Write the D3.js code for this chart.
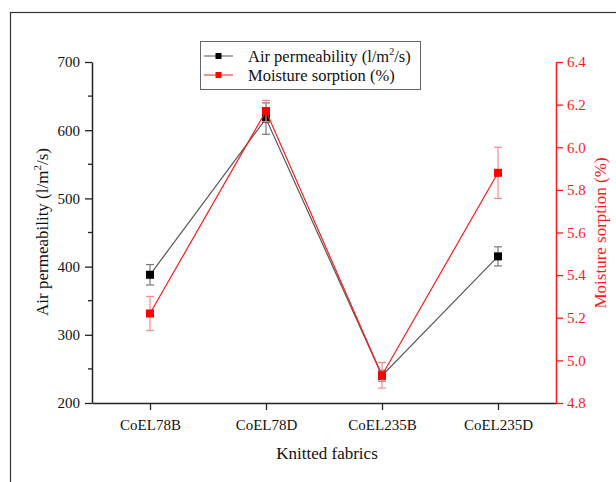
<!DOCTYPE html>
<html>
<head>
<meta charset="utf-8">
<script src="https://cdn.jsdelivr.net/npm/d3@7"></script>
<style>
  html, body { margin: 0; padding: 0; background: #fff; }
  svg text { font-family: "Times New Roman", "Liberation Serif", "DejaVu Serif", serif !important; }
</style>
</head>
<body>
<svg id="chart" width="616" height="482"></svg>
<script>
// Fabric samples on the x axis
const fabrics = ["CoEL78B", "CoEL78D", "CoEL235B", "CoEL235D"];
// Air permeability (l/m²/s) with standard deviation
const airPerm = [388, 617, 240, 415];
const airPermErr = [15, 23, 8, 14];
// Moisture sorption (%) with standard deviation
const moisture = [5.22, 6.17, 4.93, 5.88];
const moistureErr = [0.08, 0.05, 0.06, 0.12];
// Axis ticks
const leftTicks = [200, 300, 400, 500, 600, 700];
const leftMinor = [250, 350, 450, 550, 650];
const rightTicks = [4.8, 5.0, 5.2, 5.4, 5.6, 5.8, 6.0, 6.2, 6.4];

const RED = "#ff1a1a";
const svg = d3.select("#chart");

// outer frame
svg.append("rect").attr("x", 10.5).attr("y", 12.5).attr("width", 640).attr("height", 500)
  .attr("fill", "none").attr("stroke", "#333").attr("stroke-width", 1.2);

const L = 92, R = 556, T = 62, B = 403;
const x = d3.scaleLinear().domain([0.5, 4.5]).range([L, R]);
const yL = d3.scaleLinear().domain([200, 700]).range([B, T]);
const yR = d3.scaleLinear().domain([4.8, 6.4]).range([B, T]);

// bottom axis
const xAxis = svg.append("g").attr("transform", `translate(0,${B})`)
  .call(d3.axisBottom(x).tickValues([1, 2, 3, 4]).tickFormat(i => fabrics[i - 1])
    .tickSize(7).tickSizeOuter(0).tickPadding(9));
xAxis.select(".domain").attr("stroke", "#222").attr("stroke-width", 1.5);
xAxis.selectAll(".tick line").attr("stroke", "#222").attr("stroke-width", 1.3);
xAxis.selectAll("text").attr("font-size", 15).attr("fill", "#111");

// left axis
const lAxis = svg.append("g").attr("transform", `translate(${L},0)`)
  .call(d3.axisLeft(yL).tickValues(leftTicks).tickSize(7).tickSizeOuter(0).tickPadding(5));
lAxis.select(".domain").attr("stroke", "#222").attr("stroke-width", 1.5);
lAxis.selectAll(".tick line").attr("stroke", "#222").attr("stroke-width", 1.3);
lAxis.selectAll("text").attr("font-size", 15).attr("fill", "#111");
lAxis.selectAll(".minor").data(leftMinor).enter().append("line")
  .attr("x1", 0).attr("x2", -4).attr("y1", d => yL(d)).attr("y2", d => yL(d))
  .attr("stroke", "#222").attr("stroke-width", 1.3);

// right axis
const rAxis = svg.append("g").attr("transform", `translate(${R},0)`)
  .call(d3.axisRight(yR).tickValues(rightTicks).tickFormat(d3.format(".1f"))
    .tickSize(7).tickSizeOuter(0).tickPadding(4));
rAxis.select(".domain").attr("stroke", RED).attr("stroke-width", 1.5);
rAxis.selectAll(".tick line").attr("stroke", RED).attr("stroke-width", 1.3);
rAxis.selectAll("text").attr("font-size", 15).attr("fill", RED);

// axis titles
svg.append("text").attr("x", 327).attr("y", 459).attr("text-anchor", "middle")
  .attr("font-size", 17).attr("fill", "#111").text("Knitted fabrics");

const lt = svg.append("text").attr("transform", `translate(48,232) rotate(-90)`)
  .attr("text-anchor", "middle").attr("font-size", 17).attr("fill", "#111");
lt.append("tspan").text("Air permeability (l/m");
lt.append("tspan").attr("font-size", 11).attr("dy", -7).text("2");
lt.append("tspan").attr("dy", 7).text("/s)");

svg.append("text").attr("transform", `translate(606,233) rotate(-90)`)
  .attr("text-anchor", "middle").attr("font-size", 17).attr("fill", RED)
  .text("Moisture sorption (%)");

// series drawing
function drawSeries(vals, errs, y, lineColor, markColor, errColor) {
  const line = d3.line().x((d, i) => x(i + 1)).y(d => y(d));
  svg.append("path").datum(vals).attr("d", line)
    .attr("fill", "none").attr("stroke", lineColor).attr("stroke-width", 1.2);
  const g = svg.append("g");
  vals.forEach((v, i) => {
    const cx = x(i + 1), y1 = y(v + errs[i]), y2 = y(v - errs[i]);
    g.append("line").attr("x1", cx).attr("x2", cx).attr("y1", y1).attr("y2", y2)
      .attr("stroke", errColor).attr("stroke-width", 1.2);
    [y1, y2].forEach(yy => g.append("line").attr("x1", cx - 4).attr("x2", cx + 4)
      .attr("y1", yy).attr("y2", yy).attr("stroke", errColor).attr("stroke-width", 1.2));
    g.append("rect").attr("x", cx - 4).attr("y", y(v) - 4).attr("width", 8).attr("height", 8)
      .attr("fill", markColor);
  });
}
drawSeries(airPerm, airPermErr, yL, "#555", "#000", "#777");
drawSeries(moisture, moistureErr, yR, RED, "#ff0000", "#f58a8a");

// legend
const lg = svg.append("g");
lg.append("rect").attr("x", 200.5).attr("y", 41.5).attr("width", 220).attr("height", 48)
  .attr("fill", "#fff").attr("stroke", "#666").attr("stroke-width", 1);
const items = [
  { label: "Air permeability (l/m", sup: "2", tail: "/s)", line: "#555", mark: "#000" },
  { label: "Moisture sorption (%)", line: RED, mark: "#ff0000" }
];
items.forEach((it, i) => {
  const cy = 56 + i * 19;
  lg.append("line").attr("x1", 204).attr("x2", 233).attr("y1", cy).attr("y2", cy)
    .attr("stroke", it.line).attr("stroke-width", 1);
  lg.append("rect").attr("x", 215.5).attr("y", cy - 3).attr("width", 6).attr("height", 6).attr("fill", it.mark);
  const t = lg.append("text").attr("x", 248).attr("y", cy + 6).attr("font-size", 16.5).attr("fill", "#111");
  t.append("tspan").text(it.label);
  if (it.sup) {
    t.append("tspan").attr("font-size", 10).attr("dy", -7).text(it.sup);
    t.append("tspan").attr("dy", 7).text(it.tail);
  }
});
</script>
</body>
</html>
